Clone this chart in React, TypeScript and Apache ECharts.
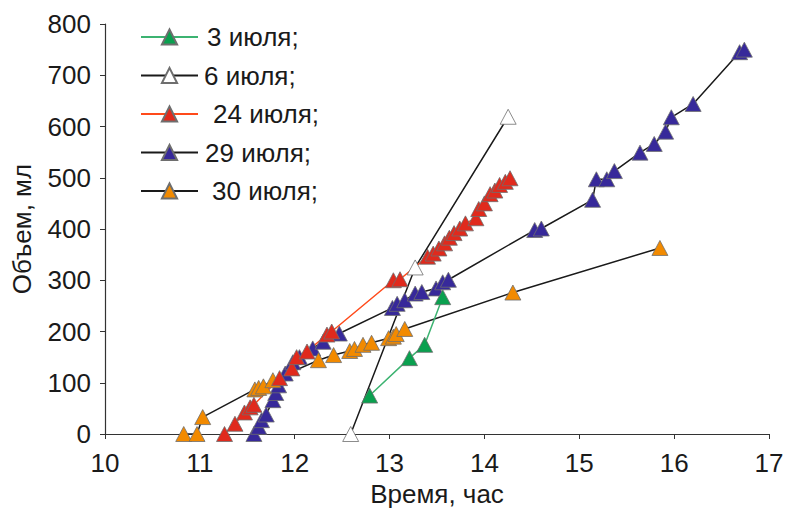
import React, { useEffect, useRef } from "react";
import * as echarts from "echarts";

// ---- Data ----
const xTicks = [10, 11, 12, 13, 14, 15, 16, 17];
const yTicks = [0, 100, 200, 300, 400, 500, 600, 700, 800];

const names = ["3 июля;", "6 июля;", "24 июля;", "29 июля;", "30 июля;"];

const x3 = [12.79, 13.21, 13.37, 13.56];
const y3 = [75, 148, 174, 267];

const x6 = [12.59, 13.27, 14.25];
const y6 = [0, 325, 619];

const x24 = [11.26, 11.37, 11.47, 11.53, 11.57, 11.84, 11.97, 12.02, 12.13, 12.34, 12.39, 13.04, 13.11, 13.40, 13.46, 13.52, 13.58, 13.63, 13.68, 13.74, 13.80, 13.91, 13.94, 14.0, 14.06, 14.11, 14.16, 14.22, 14.27];
const y24 = [0, 20, 42, 52, 57, 109, 128, 150, 161, 194, 200, 300, 302, 346, 352, 362, 372, 383, 392, 401, 411, 421, 439, 450, 468, 475, 486, 492, 499];

const x29 = [11.57, 11.62, 11.65, 11.70, 11.77, 11.80, 11.83, 11.90, 11.98, 12.05, 12.19, 12.30, 12.47, 13.03, 13.08, 13.16, 13.27, 13.34, 13.49, 13.56, 13.62, 14.53, 14.60, 15.14, 15.18, 15.29, 15.37, 15.64, 15.79, 15.91, 15.97, 16.20, 16.69, 16.74];
const y29 = [0, 14, 27, 38, 66, 80, 95, 118, 140, 150, 167, 180, 196, 246, 254, 261, 274, 277, 284, 296, 301, 398, 401, 457, 497, 497, 513, 549, 566, 590, 618, 644, 745, 750];

const x30 = [10.83, 10.97, 11.03, 11.58, 11.62, 11.67, 11.77, 12.25, 12.41, 12.58, 12.63, 12.72, 12.81, 12.99, 13.04, 13.07, 13.16, 14.30, 15.85];
const y30 = [0, 0, 33, 87, 90, 93, 105, 144, 154, 162, 166, 174, 178, 187, 190, 195, 205, 276, 363];

const FONT = "'Liberation Sans', Arial, sans-serif";

function pairs(xs: number[], ys: number[]) {
  return xs.map((x, i) => [x, ys[i]]);
}

function mkSeries(name: string, xs: number[], ys: number[], fill: string, line: string) {
  return {
    name,
    type: "line",
    data: pairs(xs, ys),
    symbol: "triangle",
    symbolSize: [16, 15],
    showSymbol: true,
    lineStyle: { color: line, width: 1.5 },
    itemStyle: { color: fill, borderColor: "#6e6e6e", borderWidth: 0.8 },
    emphasis: { disabled: true },
  };
}

export default function App() {
  const ref = useRef<HTMLDivElement>(null);
  useEffect(() => {
    if (!ref.current) return;
    const chart = echarts.init(ref.current, undefined, { renderer: "svg" });
    const series = [
      mkSeries(names[3], x29, y29, "#37299a", "#1a1a1a"),
      mkSeries(names[4], x30, y30, "#f28a00", "#1a1a1a"),
      mkSeries(names[0], x3, y3, "#0aa04f", "#3cb371"),
      mkSeries(names[1], x6, y6, "#ffffff", "#1a1a1a"),
      mkSeries(names[2], x24, y24, "#e02a1d", "#ff4a1a"),
    ];
    chart.setOption({
      animation: false,
      backgroundColor: "#ffffff",
      textStyle: { fontFamily: FONT },
      grid: { left: 105, right: 17, top: 24, bottom: 74, containLabel: false, outerBoundsMode: "none" },
      legend: {
        orient: "vertical",
        left: 135,
        top: 19,
        itemWidth: 57,
        itemHeight: 19,
        itemGap: 12.5,
        selectedMode: false,
        textStyle: { fontSize: 26, color: "#1a1a1a", fontFamily: FONT, lineHeight: 26 },
        data: [
          { name: names[0], textStyle: { padding: [0, 0, 0, 4] } },
          { name: names[1], textStyle: { padding: [0, 0, 0, 1] } },
          { name: names[2], textStyle: { padding: [0, 0, 0, 10] } },
          { name: names[3], textStyle: { padding: [0, 0, 0, 2] } },
          { name: names[4], textStyle: { padding: [0, 0, 0, 9] } },
        ],
      },
      xAxis: {
        type: "value",
        min: xTicks[0],
        max: xTicks[xTicks.length - 1],
        interval: 1,
        name: "Время, час",
        nameLocation: "middle",
        nameGap: 44,
        nameTextStyle: { fontSize: 26, color: "#1a1a1a", verticalAlign: "top", fontFamily: FONT },
        axisLine: { lineStyle: { color: "#333", width: 1.2 } },
        axisTick: { show: true, length: 5, inside: false, lineStyle: { color: "#333" } },
        axisLabel: { fontSize: 26, color: "#1a1a1a", margin: 16, fontFamily: FONT },
        splitLine: { show: false },
      },
      yAxis: {
        type: "value",
        min: yTicks[0],
        max: yTicks[yTicks.length - 1],
        interval: 100,
        name: "Объем, мл",
        nameLocation: "middle",
        nameGap: 70,
        nameRotate: 90,
        nameTextStyle: { fontSize: 26, color: "#1a1a1a", fontFamily: FONT },
        axisLine: { show: true, lineStyle: { color: "#333", width: 1.2 } },
        axisTick: { show: true, length: 5, inside: false, lineStyle: { color: "#333" } },
        axisLabel: { fontSize: 26, color: "#1a1a1a", margin: 14, fontFamily: FONT },
        splitLine: { show: false },
      },
      series,
    });
    return () => chart.dispose();
  }, []);
  return (
    <div
      ref={ref}
      style={{ position: "absolute", left: 0, top: 0, width: 786, height: 508, background: "#fff" }}
    />
  );
}
